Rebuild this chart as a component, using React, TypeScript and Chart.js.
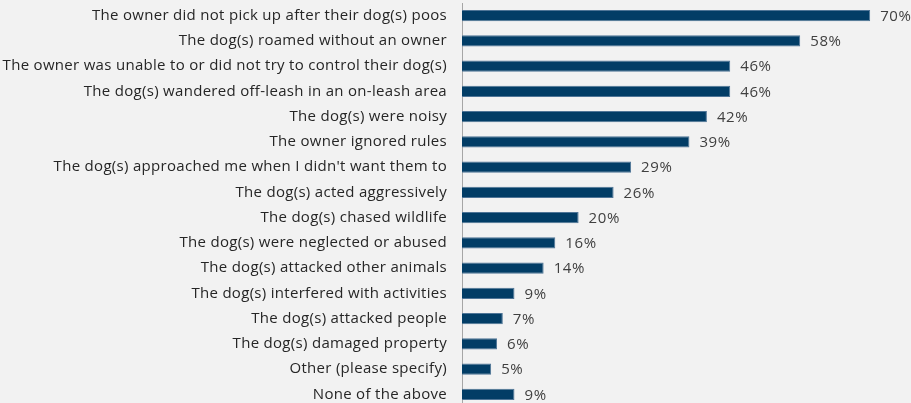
import React, { useEffect, useRef } from "react";
import { Chart, registerables } from "chart.js";

Chart.register(...registerables);

const categories: string[] = [
  "The owner did not pick up after their dog(s) poos",
  "The dog(s) roamed without an owner",
  "The owner was unable to or did not try to control their dog(s)",
  "The dog(s) wandered off-leash in an on-leash area",
  "The dog(s) were noisy",
  "The owner ignored rules",
  "The dog(s) approached me when I didn't want them to",
  "The dog(s) acted aggressively",
  "The dog(s) chased wildlife",
  "The dog(s) were neglected or abused",
  "The dog(s) attacked other animals",
  "The dog(s) interfered with activities",
  "The dog(s) attacked people",
  "The dog(s) damaged property",
  "Other (please specify)",
  "None of the above",
];

const percentages: number[] = [70, 58, 46, 46, 42, 39, 29, 26, 20, 16, 14, 9, 7, 6, 5, 9];

const FONT = "'Open Sans', sans-serif";

const spacing = {
  id: "spacing",
  beforeDraw(chart: any) {
    chart.ctx.letterSpacing = "0.3px";
  },
};

const valueLabels = {
  id: "valueLabels",
  afterDatasetsDraw(chart: any) {
    const ctx = chart.ctx;
    const meta = chart.getDatasetMeta(0);
    ctx.save();
    ctx.letterSpacing = "0.6px";
    ctx.font = `15px ${FONT}`;
    ctx.fillStyle = "#404040";
    ctx.textAlign = "left";
    ctx.textBaseline = "middle";
    meta.data.forEach((bar: any, i: number) => {
      ctx.fillText(`${percentages[i]}%`, bar.x + 10, bar.y + 1);
    });
    ctx.restore();
  },
};

export default function App() {
  const ref = useRef<HTMLCanvasElement | null>(null);
  useEffect(() => {
    if (!ref.current) return;
    const chart = new Chart(ref.current, {
      type: "bar",
      data: {
        labels: categories,
        datasets: [
          {
            data: percentages,
            backgroundColor: "#023d66",
            borderColor: "#4f7597",
            borderWidth: 1,
            categoryPercentage: 0.88,
            barPercentage: 0.5,
          },
        ],
      },
      options: {
        indexAxis: "y",
        responsive: true,
        maintainAspectRatio: false,
        animation: false,
        layout: { padding: { top: 3, right: 0, bottom: 0, left: 0 } },
        plugins: {
          legend: { display: false },
          tooltip: { enabled: false },
        },
        scales: {
          x: {
            display: false,
            min: 0,
            max: 77,
          },
          y: {
            grid: { display: false, drawTicks: true, tickLength: 15 },
            border: { display: true, color: "#a6a6a6", width: 1 },
            afterFit: (scale: any) => {
              scale.width = 462;
              scale.paddingTop = 0;
              scale.paddingBottom = 0;
            },
            ticks: {
              padding: 0,
              color: "#262626",
              font: { family: FONT, size: 15 },
              autoSkip: false,
            },
          },
        },
      },
      plugins: [spacing, valueLabels],
    });
    return () => chart.destroy();
  }, []);

  return (
    <div
      style={{
        position: "fixed",
        left: 0,
        top: 0,
        width: 911,
        height: 403,
        overflow: "hidden",
        background: "#f2f2f2",
      }}
    >
      <div style={{ position: "relative", width: 911, height: 407 }}>
        <canvas ref={ref} />
      </div>
    </div>
  );
}
